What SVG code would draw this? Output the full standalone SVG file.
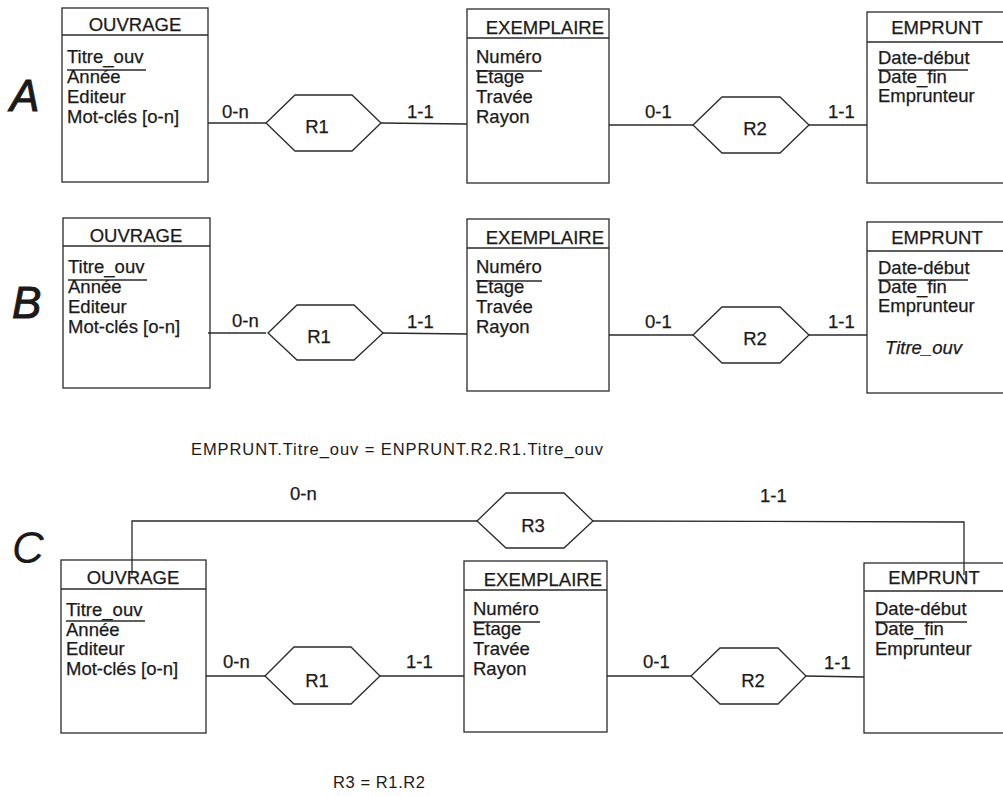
<svg xmlns="http://www.w3.org/2000/svg" width="1003" height="796" viewBox="0 0 1003 796">
<style>
  .bg{fill:#ffffff}
  .box{fill:none;stroke:#2a2a2a;stroke-width:1.3}
  .ln{fill:none;stroke:#2a2a2a;stroke-width:1.3}
  .hex{fill:#ffffff;stroke:#2a2a2a;stroke-width:1.3}
  text{font-family:"Liberation Sans",Arial,sans-serif;fill:#1a1a1a}
  .t{font-size:18.5px;stroke:#1a1a1a;stroke-width:0.25}
  .c{text-anchor:middle}
  .e{text-anchor:end}
  .it{font-style:italic}
  .big{font-size:44px;font-style:italic}
  .heavy{stroke:#1a1a1a;stroke-width:1}
  .f{font-size:16.5px}
</style>
<rect class="bg" x="0" y="0" width="1003" height="796"/>

<!-- Section letters -->
<text class="big heavy" x="10" y="111">A</text>
<text class="big heavy" x="12" y="318">B</text>
<text class="big" x="12" y="563">C</text>

<!-- ===== Section A ===== -->
<g id="connectors-A">
  <line class="ln" x1="208" y1="123" x2="266" y2="123"/>
  <line class="ln" x1="381" y1="123" x2="467" y2="124"/>
  <line class="ln" x1="609" y1="125" x2="693" y2="125"/>
  <line class="ln" x1="809" y1="125" x2="867" y2="125"/>
  <text class="t" x="222" y="118">0-n</text>
  <text class="t" x="407" y="118">1-1</text>
  <text class="t" x="645" y="118">0-1</text>
  <text class="t" x="828" y="118">1-1</text>
</g>
<g id="A-ouvrage">
  <rect class="box" x="62" y="8" width="146" height="174"/>
  <line class="ln" x1="62" y1="35" x2="208" y2="35"/>
  <text class="t c" x="135" y="31">OUVRAGE</text>
  <text class="t" x="67" y="63">Titre_ouv</text>
  <line class="ln" x1="67" y1="70" x2="146" y2="70"/>
  <text class="t" x="67" y="83">Année</text>
  <text class="t" x="67" y="103">Editeur</text>
  <text class="t" x="67" y="123">Mot-clés [o-n]</text>
</g>
<g id="A-r1">
  <polygon class="hex" points="266,123 295,95 352,95 381,123 352,151 295,151"/>
  <text class="t c" x="317" y="133">R1</text>
</g>
<g id="A-exemplaire">
  <rect class="box" x="467" y="9" width="142" height="174"/>
  <line class="ln" x1="467" y1="38" x2="609" y2="38"/>
  <text class="t e" x="604" y="34">EXEMPLAIRE</text>
  <text class="t" x="476" y="63">Numéro</text>
  <line class="ln" x1="476" y1="71" x2="542" y2="71"/>
  <text class="t" x="476" y="83">Etage</text>
  <text class="t" x="476" y="103">Travée</text>
  <text class="t" x="476" y="123">Rayon</text>
</g>
<g id="A-r2">
  <polygon class="hex" points="693,125 722,97 780,97 809,125 780,153 722,153"/>
  <text class="t c" x="755" y="135">R2</text>
</g>
<g id="A-emprunt">
  <rect class="box" x="867" y="12" width="140" height="171"/>
  <line class="ln" x1="867" y1="42" x2="1007" y2="42"/>
  <text class="t c" x="937" y="34">EMPRUNT</text>
  <text class="t" x="878" y="64">Date-début</text>
  <line class="ln" x1="878" y1="70" x2="968" y2="70"/>
  <text class="t" x="878" y="83">Date_fin</text>
  <text class="t" x="878" y="102">Emprunteur</text>
</g>

<!-- ===== Section B ===== -->
<g id="connectors-B">
  <line class="ln" x1="208" y1="333" x2="266" y2="333"/>
  <line class="ln" x1="381" y1="333" x2="467" y2="334"/>
  <line class="ln" x1="609" y1="335" x2="693" y2="335"/>
  <line class="ln" x1="809" y1="335" x2="867" y2="335"/>
  <text class="t" x="232" y="327">0-n</text>
  <text class="t" x="407" y="328">1-1</text>
  <text class="t" x="645" y="328">0-1</text>
  <text class="t" x="828" y="328">1-1</text>
</g>
<g id="B-ouvrage">
  <rect class="box" x="63" y="218" width="147" height="170"/>
  <line class="ln" x1="63" y1="246" x2="210" y2="246"/>
  <text class="t c" x="136" y="242">OUVRAGE</text>
  <text class="t" x="68" y="273">Titre_ouv</text>
  <line class="ln" x1="68" y1="280" x2="147" y2="280"/>
  <text class="t" x="68" y="293">Année</text>
  <text class="t" x="68" y="313">Editeur</text>
  <text class="t" x="68" y="333">Mot-clés [o-n]</text>
</g>
<g id="B-r1">
  <polygon class="hex" points="268,333 297,305 354,305 383,333 354,360 297,360"/>
  <text class="t c" x="319" y="343">R1</text>
</g>
<g id="B-exemplaire">
  <rect class="box" x="467" y="219" width="142" height="172"/>
  <line class="ln" x1="467" y1="248" x2="609" y2="248"/>
  <text class="t e" x="604" y="244">EXEMPLAIRE</text>
  <text class="t" x="476" y="273">Numéro</text>
  <line class="ln" x1="476" y1="281" x2="542" y2="281"/>
  <text class="t" x="476" y="293">Etage</text>
  <text class="t" x="476" y="313">Travée</text>
  <text class="t" x="476" y="333">Rayon</text>
</g>
<g id="B-r2">
  <polygon class="hex" points="693,335 722,307 780,307 809,335 780,363 722,363"/>
  <text class="t c" x="755" y="345">R2</text>
</g>
<g id="B-emprunt">
  <rect class="box" x="867" y="222" width="140" height="171"/>
  <line class="ln" x1="867" y1="251" x2="1007" y2="251"/>
  <text class="t c" x="937" y="244">EMPRUNT</text>
  <text class="t" x="878" y="274">Date-début</text>
  <line class="ln" x1="878" y1="280" x2="968" y2="280"/>
  <text class="t" x="878" y="293">Date_fin</text>
  <text class="t" x="878" y="312">Emprunteur</text>
  <text class="t it" x="885" y="354">Titre_ouv</text>
</g>

<text class="f" x="191" y="455" textLength="412" lengthAdjust="spacing">EMPRUNT.Titre_ouv = ENPRUNT.R2.R1.Titre_ouv</text>

<!-- ===== Section C ===== -->
<g id="connectors-C">
  <line class="ln" x1="206" y1="676" x2="265" y2="676"/>
  <line class="ln" x1="380" y1="676" x2="464" y2="676"/>
  <line class="ln" x1="607" y1="676" x2="691" y2="676"/>
  <line class="ln" x1="806" y1="676" x2="864" y2="677"/>
  <polyline class="ln" points="132,575 132,521 477,521"/>
  <polyline class="ln" points="593,521 964,522 964,575"/>
  <text class="t" x="223" y="668">0-n</text>
  <text class="t" x="406" y="668">1-1</text>
  <text class="t" x="643" y="668">0-1</text>
  <text class="t" x="824" y="669">1-1</text>
  <text class="t" x="290" y="500">0-n</text>
  <text class="t" x="760" y="502">1-1</text>
</g>
<g id="C-ouvrage">
  <rect class="box" x="61" y="560" width="145" height="173"/>
  <line class="ln" x1="61" y1="589" x2="206" y2="589"/>
  <text class="t c" x="133" y="584">OUVRAGE</text>
  <text class="t" x="66" y="616">Titre_ouv</text>
  <line class="ln" x1="66" y1="621" x2="145" y2="621"/>
  <text class="t" x="66" y="636">Année</text>
  <text class="t" x="66" y="655">Editeur</text>
  <text class="t" x="66" y="675">Mot-clés [o-n]</text>
</g>
<g id="C-r1">
  <polygon class="hex" points="265,676 294,647 351,647 380,676 351,704 294,704"/>
  <text class="t c" x="317" y="687">R1</text>
</g>
<g id="C-exemplaire">
  <rect class="box" x="464" y="561" width="143" height="171"/>
  <line class="ln" x1="464" y1="590" x2="607" y2="590"/>
  <text class="t e" x="602" y="586">EXEMPLAIRE</text>
  <text class="t" x="473" y="615">Numéro</text>
  <line class="ln" x1="473" y1="622" x2="540" y2="622"/>
  <text class="t" x="473" y="635">Etage</text>
  <text class="t" x="473" y="655">Travée</text>
  <text class="t" x="473" y="675">Rayon</text>
</g>
<g id="C-r2">
  <polygon class="hex" points="691,676 720,648 778,648 806,676 778,704 720,704"/>
  <text class="t c" x="753" y="687">R2</text>
</g>
<g id="C-r3">
  <polygon class="hex" points="477,521 506,493 564,493 593,521 564,548 506,548"/>
  <text class="t c" x="533" y="532">R3</text>
</g>
<g id="C-emprunt">
  <rect class="box" x="864" y="563" width="143" height="170"/>
  <line class="ln" x1="864" y1="591" x2="1007" y2="591"/>
  <text class="t c" x="934" y="584">EMPRUNT</text>
  <text class="t" x="875" y="615">Date-début</text>
  <line class="ln" x1="875" y1="622" x2="967" y2="622"/>
  <text class="t" x="875" y="635">Date_fin</text>
  <text class="t" x="875" y="655">Emprunteur</text>
</g>

<text class="f" x="333" y="788" textLength="92" lengthAdjust="spacing">R3 = R1.R2</text>
</svg>
